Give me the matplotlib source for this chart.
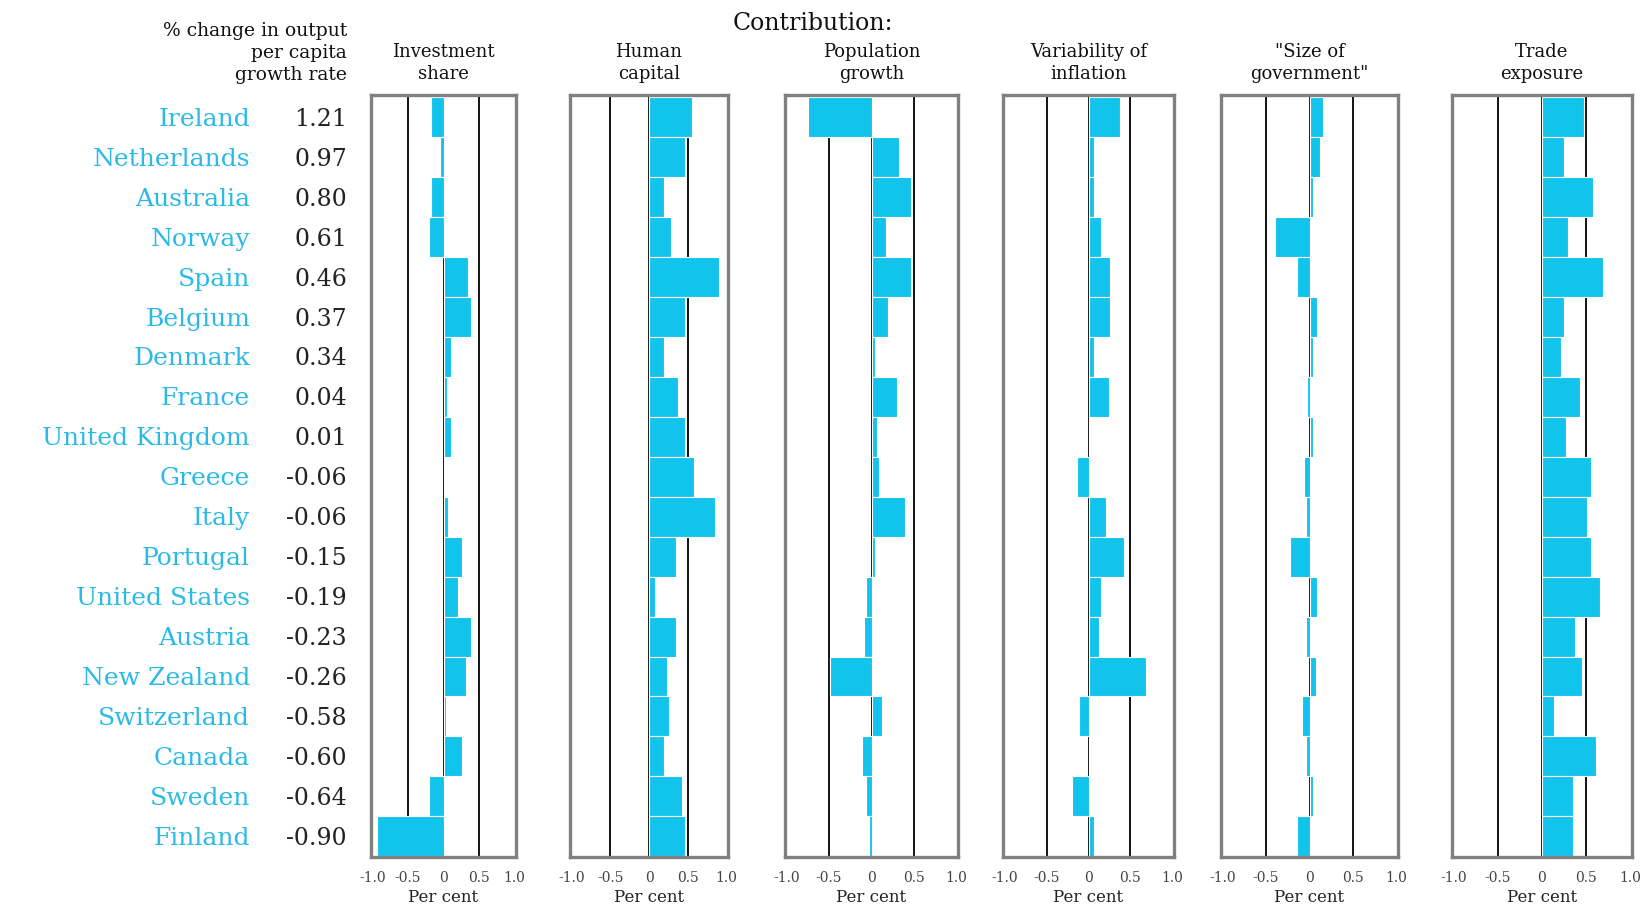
import numpy as np
import matplotlib.pyplot as plt
from matplotlib.transforms import blended_transform_factory

# Countries, top to bottom
countries = ["Ireland", "Netherlands", "Australia", "Norway", "Spain", "Belgium",
             "Denmark", "France", "United Kingdom", "Greece", "Italy", "Portugal",
             "United States", "Austria", "New Zealand", "Switzerland", "Canada",
             "Sweden", "Finland"]
growth = ["1.21", "0.97", "0.80", "0.61", "0.46", "0.37", "0.34", "0.04", "0.01",
          "-0.06", "-0.06", "-0.15", "-0.19", "-0.23", "-0.26", "-0.58", "-0.60",
          "-0.64", "-0.90"]

investment = [-0.18, -0.05, -0.17, -0.21, 0.35, 0.39, 0.10, 0.05, 0.10, 0.0,
              0.07, 0.26, 0.20, 0.39, 0.32, 0.04, 0.26, -0.21, -0.93]
human_capital = [0.56, 0.47, 0.20, 0.29, 0.91, 0.47, 0.20, 0.38, 0.47, 0.58,
                 0.85, 0.35, 0.08, 0.35, 0.23, 0.26, 0.20, 0.43, 0.47]
population = [-0.75, 0.33, 0.47, 0.17, 0.46, 0.20, 0.04, 0.30, 0.07, 0.09,
              0.39, 0.04, -0.06, -0.09, -0.49, 0.12, -0.11, -0.06, -0.035]
inflation = [0.37, 0.07, 0.07, 0.15, 0.26, 0.26, 0.07, 0.24, 0.01, -0.14,
             0.21, 0.42, 0.15, 0.12, 0.69, -0.11, 0.0, -0.20, 0.07]
government = [0.15, 0.12, 0.04, -0.40, -0.14, 0.09, 0.04, -0.03, 0.04, -0.06,
              -0.04, -0.22, 0.09, -0.04, 0.07, -0.09, -0.04, 0.04, -0.14]
trade = [0.48, 0.25, 0.58, 0.30, 0.69, 0.25, 0.22, 0.43, 0.27, 0.56,
         0.51, 0.56, 0.66, 0.37, 0.45, 0.14, 0.61, 0.35, 0.35]

titles = ["Investment\nshare", "Human\ncapital", "Population\ngrowth",
          "Variability of\ninflation", "\"Size of\ngovernment\"", "Trade\nexposure"]
series = [investment, human_capital, population, inflation, government, trade]
ticks = [-1.0, -0.5, 0, 0.5, 1.0]
tick_labels = ["-1.0", "-0.5", "0", "0.5", "1.0"]

BAR = "#12C3EC"
LABEL = "#2BBAE6"
plt.rcParams["font.family"] = "DejaVu Serif"

W, H = 1648, 908
fig = plt.figure(figsize=(W / 100, H / 100), dpi=100)

# panel pixel extents (left, right)
panels = [(371, 516), (570, 728), (785, 958), (1003, 1174), (1221, 1398), (1452, 1632)]
top, bottom = 95, 857
y = np.arange(len(countries))

axes = []
for (l, r), vals, title in zip(panels, series, titles):
    ax = fig.add_axes([l / W, 1 - bottom / H, (r - l) / W, (bottom - top) / H])
    for g in (-0.5, 0, 0.5):
        ax.axvline(g, color="black", lw=1.3, zorder=1)
    ax.barh(y, vals, height=1.0, color=BAR, edgecolor="white", linewidth=0.8, zorder=2)
    ax.set_xlim(-1.02, 1.02)
    ax.set_ylim(18.52, -0.56)
    ax.set_yticks([])
    ax.set_xticks(ticks)
    ax.set_xticklabels(tick_labels, fontsize=10, color="#444444")
    ax.tick_params(axis="x", length=0, pad=10)
    ax.set_xlabel("Per cent", fontsize=12, labelpad=3, color="#222222")
    for s in ax.spines.values():
        s.set_color("#808080")
        s.set_linewidth(2.4)
    ax.text(0, 1 - 43 / H, title,
            transform=blended_transform_factory(ax.transData, fig.transFigure),
            ha="center", va="top", fontsize=13, linespacing=1.3, color="#111111")
    axes.append(ax)

# country names and growth rates
tr = blended_transform_factory(fig.transFigure, axes[0].transData)
for i, (c, g) in enumerate(zip(countries, growth)):
    axes[0].text(250 / W, i + 0.05, c, transform=tr, ha="right", va="center",
                 fontsize=18, color=LABEL, clip_on=False)
    axes[0].text(347 / W, i + 0.05, g, transform=tr, ha="right", va="center",
                 fontsize=17, color="#222222", clip_on=False)

fig.text(347 / W, 1 - 22 / H, "% change in output\nper capita\ngrowth rate",
         ha="right", va="top", fontsize=13.5, linespacing=1.3, color="#111111")
fig.text(813 / W, 1 - 24 / H, "Contribution:", ha="center", va="center",
         fontsize=17, color="#111111")

fig.savefig("out.png", dpi=100)
